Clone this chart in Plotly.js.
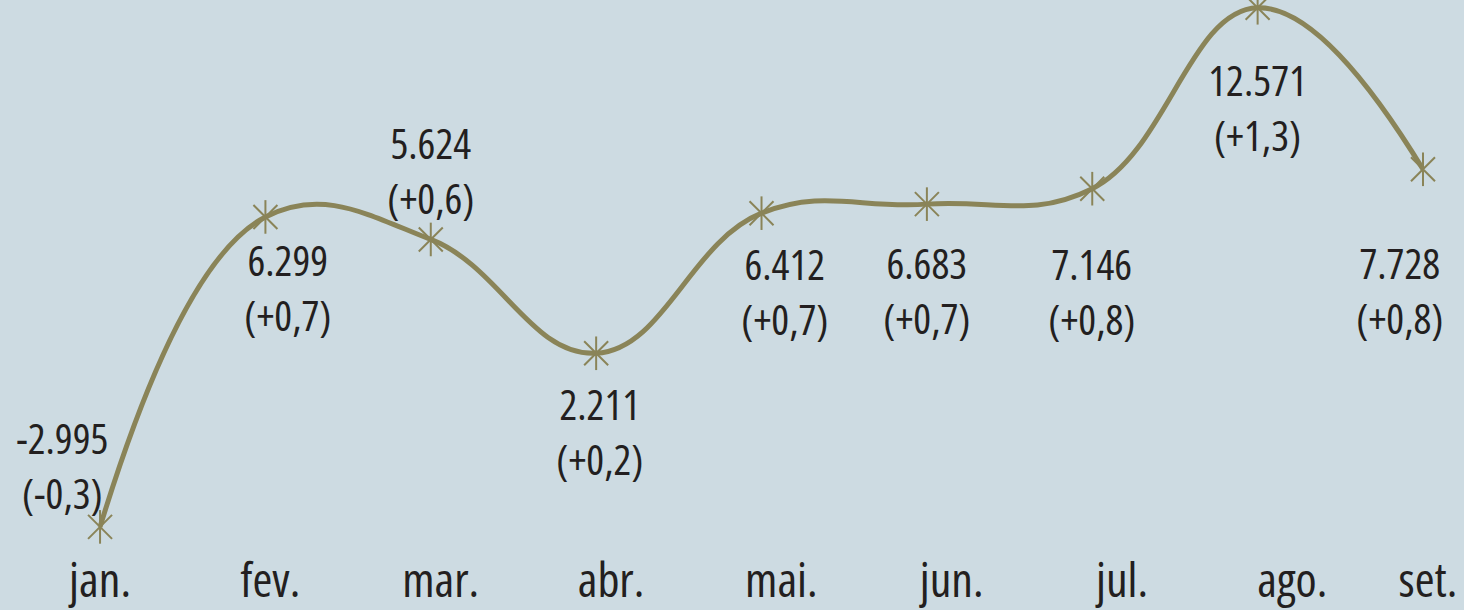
<!DOCTYPE html>
<html><head><meta charset="utf-8">
<script src="https://cdn.plot.ly/plotly-3.0.1.min.js"></script>
<style>html,body{margin:0;padding:0;background:#cddbe2;}#chart{width:1464px;height:610px;}#chart text{font-stretch:condensed !important;}</style>
</head><body><div id="chart"></div>
<script>
// Data
const months = ["jan.", "fev.", "mar.", "abr.", "mai.", "jun.", "jul.", "ago.", "set."];
const values = [-2.995, 6.299, 5.624, 2.211, 6.412, 6.683, 7.146, 12.571, 7.728];
const valueLabels = ["-2.995", "6.299", "5.624", "2.211", "6.412", "6.683", "7.146", "12.571", "7.728"];
const changeLabels = ["(-0,3)", "(+0,7)", "(+0,6)", "(+0,2)", "(+0,7)", "(+0,7)", "(+0,8)", "(+1,3)", "(+0,8)"];

// Layout-only: label offsets in pixels (dx right, dy down)
const labelOffsets = [[-38,-62],[23,70],[0,-69],[4,78],[23,78],[0,86],[0,102],[0,99],[-23,121]];
const labelSpacing = 1.03; // month label spacing relative to points
const lastLabelMax = 8.03;

const FONT = "'Open Sans', 'Roboto', sans-serif";
const olive = "#8a8458";
const idx = months.map((m,i)=>i);

const traces = [
  {x: idx, y: values, type: "scatter", mode: "lines",
   line: {color: olive, width: 5, shape: "spline", smoothing: 1.2}, hoverinfo: "skip", cliponaxis: false},
  {x: idx, y: values, type: "scatter", mode: "markers", cliponaxis: false,
   marker: {symbol: "x-thin-open", size: 24, line: {color: olive, width: 2}, color: olive}, hoverinfo: "skip"},
  {x: idx, y: values, type: "scatter", mode: "markers", cliponaxis: false,
   marker: {symbol: "line-ns-open", size: 24, line: {color: olive, width: 2}, color: olive}, hoverinfo: "skip"}
];

const annotations = values.map((v,i)=>({
  x: i, y: v, xref: "x", yref: "y", showarrow: false,
  text: valueLabels[i] + "<br>" + changeLabels[i],
  xshift: labelOffsets[i][0], yshift: -labelOffsets[i][1],
  font: {family: FONT, size: 42, color: "#231f20"},
  align: "center", xanchor: "center", yanchor: "middle"
}));

const tickPos = idx.map(i => Math.min(i*labelSpacing, lastLabelMax));

const layout = {
  width: 1464, height: 610,
  margin: {l: 0, r: 0, t: 0, b: 62},
  paper_bgcolor: "#cddbe2", plot_bgcolor: "#cddbe2",
  showlegend: false,
  xaxis: {range: [-0.605, 8.248], showgrid: false, zeroline: false, showticklabels: false, showline: false, fixedrange: true},
  xaxis2: {range: [-0.605, 8.248], overlaying: "x", side: "bottom", anchor: "y",
           tickmode: "array", tickvals: tickPos, ticktext: months,
           showgrid: false, zeroline: false, showline: false, ticks: "",
           ticklabelstandoff: 0, ticklabeloverflow: "allow",
           tickfont: {family: FONT, size: 48, color: "#231f20"}},
  yaxis: {range: [-3.628, 12.804], showgrid: false, zeroline: false, showticklabels: false, showline: false, fixedrange: true},
  annotations: annotations
};
traces.push({x: [0], y: [null], xaxis: "x2", type: "scatter", mode: "markers", hoverinfo: "skip"});
Plotly.newPlot("chart", traces, layout, {staticPlot: true, displayModeBar: false});
</script></body></html>
